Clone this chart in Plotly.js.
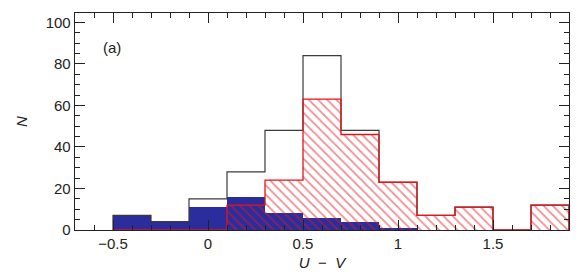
<!DOCTYPE html>
<html>
<head>
<meta charset="utf-8">
<script src="https://cdn.plot.ly/plotly-3.0.1.min.js"></script>
<style>html,body{margin:0;padding:0;background:#fff;}#chart{width:586px;height:277px;}</style>
</head>
<body>
<div id="chart"></div>
<script>
// Bin left edges (U - V), bin width 0.2
const binLeft = [-0.5, -0.3, -0.1, 0.1, 0.3, 0.5, 0.7, 0.9, 1.1, 1.3, 1.5, 1.7];
const binWidth = 0.2;
// Counts per bin
const totalCounts = [7, 4, 15, 28, 48, 84, 48, 23, 7, 11, 0, 12];
const blueCounts  = [7, 4, 11, 16, 8, 6, 4, 1, 0, 0, 0, 0];
const redCounts   = [0, 0, 0, 12, 24, 63, 46, 23, 7, 11, 0, 12];
const xTickVals = [-0.5, 0, 0.5, 1, 1.5];
const xTickText = ['\u22120.5', '0', '0.5', '1', '1.5'];
const yTickVals = [0, 20, 40, 60, 80, 100];

const centers = binLeft.map(e => e + binWidth / 2);

function stepPath(counts) {
  const xs = [binLeft[0]], ys = [0];
  counts.forEach((v, i) => {
    xs.push(binLeft[i], binLeft[i] + binWidth);
    ys.push(v, v);
  });
  xs.push(binLeft[binLeft.length - 1] + binWidth);
  ys.push(0);
  return {x: xs, y: ys};
}

const blueColor = '#2b2d9c';
const redColor = '#e3151c';

const totalStep = stepPath(totalCounts);
const redStep = stepPath(redCounts);

const traces = [
  {type: 'bar', x: centers, y: blueCounts, width: binWidth,
   marker: {color: blueColor, line: {width: 0}}, hoverinfo: 'skip', showlegend: false},
  {type: 'scatter', mode: 'lines', x: totalStep.x, y: totalStep.y,
   line: {color: '#3a3a3a', width: 1.2, shape: 'linear'}, hoverinfo: 'skip', showlegend: false},
  {type: 'bar', x: centers, y: redCounts, width: binWidth,
   marker: {color: 'rgba(0,0,0,0)', line: {width: 0},
            pattern: {shape: '\\', fgcolor: redColor, bgcolor: 'rgba(0,0,0,0)', size: 6.5, solidity: 0.27, fillmode: 'overlay'}},
   hoverinfo: 'skip', showlegend: false},
  {type: 'scatter', mode: 'lines', x: redStep.x, y: redStep.y,
   line: {color: redColor, width: 1.3}, hoverinfo: 'skip', showlegend: false}
];

const axisCommon = {
  showline: true, linecolor: '#222', linewidth: 1.3, mirror: 'ticks',
  ticks: 'inside', ticklen: 10, tickwidth: 1, tickcolor: '#222',
  showgrid: false, zeroline: false,
  tickfont: {family: 'Liberation Sans, Arial, sans-serif', size: 15, color: '#222'}
};

const layout = {
  width: 586, height: 277,
  margin: {l: 75, r: 17, t: 13, b: 47},
  paper_bgcolor: '#fff', plot_bgcolor: '#fff',
  barmode: 'overlay', bargap: 0,
  showlegend: false,
  xaxis: Object.assign({}, axisCommon, {
    range: [-0.7, 1.9], tickvals: xTickVals, ticktext: xTickText,
    minor: {dtick: 0.1, tick0: 0, ticks: 'inside', ticklen: 5, tickcolor: '#222', showgrid: false},
    title: {text: '<i>U</i>  \u2212  <i>V</i>', font: {family: 'Liberation Sans, Arial, sans-serif', size: 15, color: '#222'}, standoff: 6}
  }),
  yaxis: Object.assign({}, axisCommon, {
    range: [0, 104.5], tickvals: yTickVals,
    minor: {dtick: 5, tick0: 0, ticks: 'inside', ticklen: 5, tickcolor: '#222', showgrid: false},
    title: {text: '<i>N</i>', font: {family: 'Liberation Sans, Arial, sans-serif', size: 15, color: '#222'}, standoff: 14}
  }),
  annotations: [{
    x: -0.505, y: 88, xref: 'x', yref: 'y', text: '(a)', showarrow: false,
    font: {family: 'Liberation Sans, Arial, sans-serif', size: 15, color: '#222'}
  }]
};

Plotly.newPlot('chart', traces, layout, {displayModeBar: false, staticPlot: true});
</script>
</body>
</html>
